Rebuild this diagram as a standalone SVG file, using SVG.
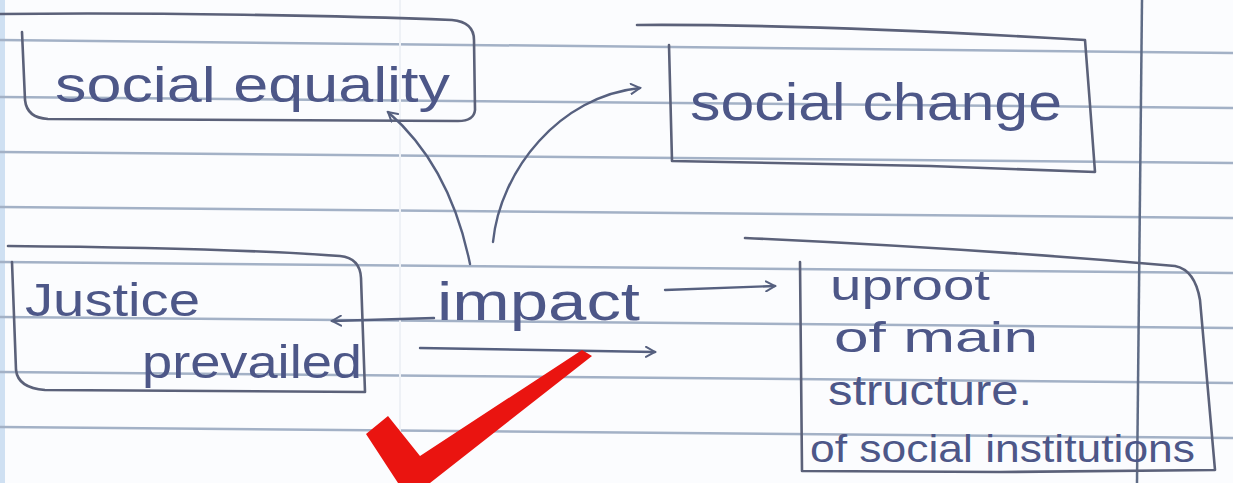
<svg xmlns="http://www.w3.org/2000/svg" width="1233" height="483" viewBox="0 0 1233 483">
<style>
.rule{stroke:#a3b1c6;stroke-width:2.5;fill:none}
.box{stroke:#5b6179;stroke-width:2.6;fill:none;stroke-linecap:round;stroke-linejoin:round}
.ink{font-family:"Liberation Sans","DejaVu Sans",sans-serif;fill:#4d5788}
.con{stroke:#56607f;stroke-width:2.4;fill:none;stroke-linecap:round}
</style>
<defs>
<marker id="head" viewBox="0 0 12 12" refX="10" refY="6" markerWidth="12" markerHeight="12" markerUnits="userSpaceOnUse" orient="auto">
<path d="M1,1 L10,6 L1,11" fill="none" stroke="#56607f" stroke-width="2" stroke-linecap="round"/>
</marker>
</defs>
<rect x="0" y="0" width="1233" height="483" fill="#fbfcfe"/>
<rect x="0" y="0" width="5" height="483" fill="#cfe0f2"/>
<g id="paper">
<line class="rule" x1="0" y1="40" x2="1233" y2="53"/>
<line class="rule" x1="0" y1="97" x2="1233" y2="108"/>
<line class="rule" x1="0" y1="152" x2="1233" y2="163"/>
<line class="rule" x1="0" y1="207" x2="1233" y2="218"/>
<line class="rule" x1="0" y1="262" x2="1233" y2="273"/>
<line class="rule" x1="0" y1="317" x2="1233" y2="328"/>
<line class="rule" x1="0" y1="372" x2="1233" y2="383"/>
<line class="rule" x1="0" y1="427" x2="1233" y2="438"/>
<line x1="400" y1="0" x2="400" y2="483" stroke="#eef1f6" stroke-width="2"/>
<line x1="1142" y1="0" x2="1137" y2="483" stroke="#5f6c86" stroke-width="2.5"/>
</g>
<g id="node-social-equality">
<path class="box" d="M0,14 C150,12 350,16 452,20 Q474,22 474,40 L475,110 Q474,121 458,121 L48,119 Q27,118 25,100 L22,32"/>
<text class="ink" x="55" y="102" font-size="50" textLength="395" lengthAdjust="spacingAndGlyphs">social equality</text>
</g>
<g id="node-social-change">
<path class="box" d="M637,25 C780,24 950,32 1085,40 L1090,105 L1095,172 L930,166 L672,161 L669,45"/>
<text class="ink" x="690" y="120" font-size="52" textLength="372" lengthAdjust="spacingAndGlyphs">social change</text>
</g>
<g id="node-justice">
<path class="box" d="M8,246 C120,247 260,250 340,256 Q360,258 361,278 L365,392 L45,390 Q18,388 16,370 L12,262"/>
<text class="ink" x="25" y="316" font-size="46" textLength="175" lengthAdjust="spacingAndGlyphs">Justice</text>
<text class="ink" x="142" y="378" font-size="46" textLength="220" lengthAdjust="spacingAndGlyphs">prevailed</text>
</g>
<g id="node-impact">
<text class="ink" x="437" y="320" font-size="54" textLength="203" lengthAdjust="spacingAndGlyphs">impact</text>
</g>
<g id="node-uproot">
<path class="box" d="M745,238 C900,245 1060,256 1175,266 Q1195,270 1200,300 L1215,470 L1000,472 L802,471 L800,262"/>
<text class="ink" x="830" y="300" font-size="42" textLength="160" lengthAdjust="spacingAndGlyphs">uproot</text>
<text class="ink" x="834" y="352" font-size="42" textLength="204" lengthAdjust="spacingAndGlyphs">of main</text>
<text class="ink" x="828" y="405" font-size="42" textLength="204" lengthAdjust="spacingAndGlyphs">structure.</text>
<text class="ink" x="810" y="462" font-size="38" textLength="385" lengthAdjust="spacingAndGlyphs">of social institutions</text>
</g>
<g id="connectors">
<path class="con" d="M434,318 L332,321" marker-end="url(#head)"/>
<path class="con" d="M665,290 L775,286" marker-end="url(#head)"/>
<path class="con" d="M420,348 L655,352" marker-end="url(#head)"/>
<path class="con" d="M470,264 C458,205 432,150 388,112" marker-end="url(#head)"/>
<path class="con" d="M493,242 C500,170 560,96 640,88" marker-end="url(#head)"/>
</g>
<g id="checkmark">
<path d="M366,434 L388,416 L420,456 L582,350 L592,356 L430,483 L398,483 Z" fill="#ea1410"/>
</g>
</svg>
